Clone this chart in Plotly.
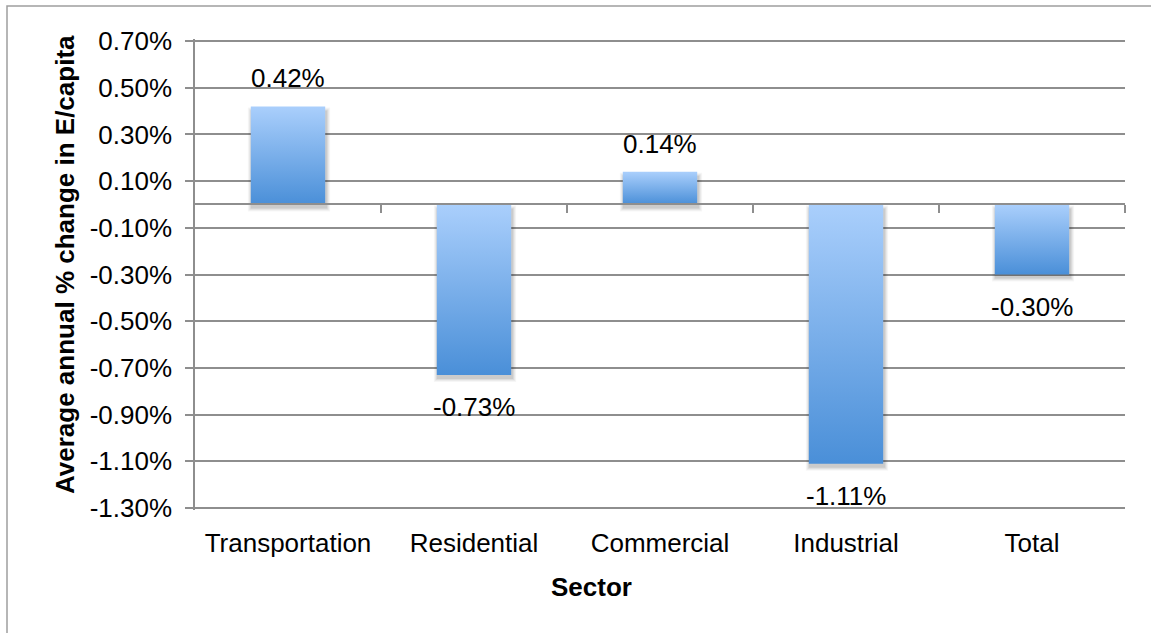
import plotly.graph_objects as go

# Average annual % change in energy use per capita, by sector
sectors = ["Transportation", "Residential", "Commercial", "Industrial", "Total"]
pct_change = [0.42, -0.73, 0.14, -1.11, -0.30]

# value axis ticks
y_ticks = [-1.30, -1.10, -0.90, -0.70, -0.50, -0.30, -0.10,
           0.10, 0.30, 0.50, 0.70]
y_tick_text = [f"{t:.2f}%" for t in y_ticks]

# page / plot-box geometry in pixels (gridline span 41..508)
W, H = 1151, 633
EXT = 2  # plot box reaches a couple of pixels past the outer gridlines
L, R, T, B = 195, 1125, 41 - EXT, 508 + EXT
PW, PH = R - L, B - T

FONT = "Arial, Liberation Sans, sans-serif"
GRID = "#8E8E8E"
BAR_TOP = "#AACFFC"
BAR_BOTTOM = "#4A8FD8"
HALF = 0.2  # half bar width in category units (gap width 150%)

y_per_px = (y_ticks[-1] - y_ticks[0]) / (PH - 2 * EXT)
y_range = [y_ticks[0] - EXT * y_per_px, y_ticks[-1] + EXT * y_per_px]
x_per_px = len(sectors) / PW


def px_x(px):
    return (px - L) / PW


def px_y(py):
    return (B - py) / PH


fig = go.Figure()

# soft drop shadow behind each bar
for i, v in enumerate(pct_change):
    lo, hi = min(0, v), max(0, v)
    for k, a in [(4, 0.035), (3, 0.045), (2, 0.06), (1, 0.08)]:
        dx = k * x_per_px
        dy = k * y_per_px
        off = 3 * y_per_px
        x0, x1 = i - HALF - dx + 1 * x_per_px, i + HALF + dx + 1 * x_per_px
        y0, y1 = lo - dy - off, hi + dy - off - 2 * y_per_px
        fig.add_trace(go.Scatter(
            x=[x0, x1, x1, x0, x0], y=[y0, y0, y1, y1, y0],
            mode="lines", line=dict(width=0), fill="toself",
            fillcolor=f"rgba(0,0,0,{a})", hoverinfo="skip", showlegend=False,
        ))

# bars with a vertical light-to-dark gradient
for i, v in enumerate(pct_change):
    lo, hi = min(0, v), max(0, v)
    x0, x1 = i - HALF, i + HALF
    fig.add_trace(go.Scatter(
        x=[x0, x1, x1, x0, x0], y=[lo, lo, hi, hi, lo],
        mode="lines", line=dict(width=0), fill="toself",
        fillgradient=dict(type="vertical",
                          colorscale=[[0, BAR_BOTTOM], [1, BAR_TOP]]),
        name=sectors[i], hovertemplate=f"{sectors[i]}: {v:.2f}%<extra></extra>",
        showlegend=False,
    ))

# value labels at the end of each bar
for i, v in enumerate(pct_change):
    fig.add_annotation(
        x=i, y=v, xref="x", yref="y", text=f"{v:.2f}%", showarrow=False,
        yanchor="middle", yshift=28 if v >= 0 else -32,
        font=dict(family=FONT, size=26, color="#000000"),
    )

# axis titles
fig.add_annotation(
    x=px_x(65), y=px_y(265), xref="paper", yref="paper",
    text="<b>Average annual % change in E/capita</b>", textangle=-90,
    showarrow=False, xanchor="center", yanchor="middle",
    font=dict(family=FONT, size=26, color="#000000"),
)
fig.add_annotation(
    x=px_x(591), y=px_y(587), xref="paper", yref="paper",
    text="<b>Sector</b>", showarrow=False, xanchor="center", yanchor="middle",
    font=dict(family=FONT, size=26, color="#000000"),
)

# chart-area border
fig.add_shape(
    type="rect", xref="paper", yref="paper",
    x0=px_x(7), x1=px_x(W + 20), y0=px_y(H + 20), y1=px_y(6),
    line=dict(color="#9E9E9E", width=1.5), fillcolor="rgba(0,0,0,0)",
    layer="below",
)

# zero-crossing category axis with boundary tick marks
zero_pos = (0 - y_range[0]) / (y_range[1] - y_range[0])

fig.update_layout(
    width=W, height=H,
    margin=dict(l=L, r=W - R, t=T, b=H - B, pad=0),
    paper_bgcolor="white", plot_bgcolor="white",
    showlegend=False,
    xaxis=dict(
        range=[-0.5, len(sectors) - 0.5],
        tickmode="array", tickvals=list(range(len(sectors))), ticktext=sectors,
        showgrid=False, zeroline=False, showline=False, ticks="",
        ticklabelstandoff=15,
        tickfont=dict(family=FONT, size=26, color="#000000"),
        fixedrange=True,
    ),
    xaxis2=dict(
        overlaying="x", anchor="free", position=zero_pos, side="bottom",
        range=[-0.5, len(sectors) - 0.5],
        tickmode="array",
        tickvals=[k + 0.5 for k in range(len(sectors))],
        showticklabels=False, ticks="outside", ticklen=8, tickwidth=1.5,
        tickcolor=GRID, showline=True, linecolor=GRID, linewidth=1.5,
        showgrid=False, zeroline=False, fixedrange=True,
    ),
    yaxis=dict(
        range=y_range,
        tickmode="array", tickvals=y_ticks, ticktext=y_tick_text,
        showgrid=True, gridcolor=GRID, gridwidth=1.5,
        zeroline=False, showline=True, linecolor=GRID, linewidth=1.5,
        ticks="outside", ticklen=8, tickwidth=1.5, tickcolor=GRID,
        ticklabelstandoff=8,
        tickfont=dict(family=FONT, size=26, color="#000000"),
        fixedrange=True,
    ),
)

# an invisible trace keeps the zero-line axis on the page
fig.add_trace(go.Scatter(x=[0], y=[0], xaxis="x2", mode="markers",
                         marker=dict(opacity=0), hoverinfo="skip",
                         showlegend=False))

fig.write_html("out.html")
